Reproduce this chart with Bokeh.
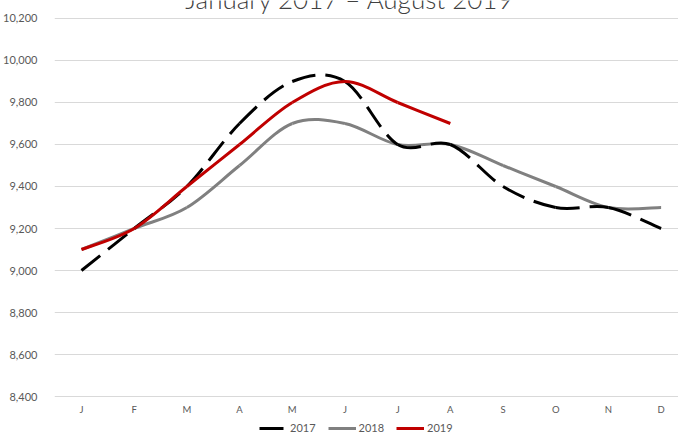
from bokeh.plotting import figure
from bokeh.models import (ColumnDataSource, FixedTicker, NumeralTickFormatter, Range1d,
                          Legend, LegendItem, Label)
from bokeh.core.properties import value
from bokeh.embed import file_html
from bokeh.resources import INLINE

months = ["J", "F", "M", "A", "M", "J", "J", "A", "S", "O", "N", "D"]
y2017 = [9000, 9200, 9400, 9700, 9900, 9900, 9600, 9600, 9400, 9300, 9300, 9200]
y2018 = [9100, 9200, 9300, 9500, 9700, 9700, 9600, 9600, 9500, 9400, 9300, 9300]
y2019 = [9100, 9200, 9400, 9600, 9800, 9900, 9800, 9700]
y_ticks = list(range(8400, 10201, 200))
title_text = "January 2017 \u2013 August 2019"


def smooth_segments(values):
    """Bezier control points (Catmull-Rom style, like Excel's smoothed line)."""
    xs = list(range(len(values)))
    pts = list(zip(xs, values))
    n = len(pts)
    d = dict(x0=[], y0=[], x1=[], y1=[], cx0=[], cy0=[], cx1=[], cy1=[])
    for i in range(n - 1):
        p0 = pts[i - 1] if i > 0 else pts[i]
        p1 = pts[i]
        p2 = pts[i + 1]
        p3 = pts[i + 2] if i + 2 < n else pts[i + 1]
        d["x0"].append(p1[0]); d["y0"].append(p1[1])
        d["x1"].append(p2[0]); d["y1"].append(p2[1])
        d["cx0"].append(p1[0] + (p2[0] - p0[0]) / 6.0)
        d["cy0"].append(p1[1] + (p2[1] - p0[1]) / 6.0)
        d["cx1"].append(p2[0] - (p3[0] - p1[0]) / 6.0)
        d["cy1"].append(p2[1] - (p3[1] - p1[1]) / 6.0)
    return ColumnDataSource(d)


p = figure(width=678, height=435, output_backend="svg", toolbar_location=None,
           x_range=Range1d(-0.512, 11.33), y_range=Range1d(8214.3, 10285.7),
           min_border_left=54, min_border_right=0, min_border_top=0, min_border_bottom=0)
p.outline_line_color = None
p.background_fill_color = "white"
p.border_fill_color = "white"

p.xgrid.grid_line_color = None
p.ygrid.grid_line_color = "#d9d9d9"
p.ygrid.grid_line_width = 1
p.ygrid.ticker = FixedTicker(ticks=y_ticks)

p.xaxis.visible = False
p.yaxis.ticker = FixedTicker(ticks=y_ticks)
p.yaxis.formatter = NumeralTickFormatter(format="0,0")
p.yaxis.axis_line_color = None
p.yaxis.major_tick_line_color = None
p.yaxis.minor_tick_line_color = None
p.yaxis.major_label_text_color = "#595959"
p.yaxis.major_label_text_font = "Lato"
p.yaxis.major_label_text_font_size = "11px"
p.yaxis.major_label_standoff = 11

# month labels along the bottom (category axis)
month_src = ColumnDataSource(dict(x=list(range(len(months))), m=months))
p.text(x="x", y=8338, text="m", source=month_src, text_align="center",
       text_baseline="middle", text_font=value("Lato"), text_font_size="9.5px",
       text_color="#595959")

r18 = p.bezier(source=smooth_segments(y2018), x0="x0", y0="y0", x1="x1", y1="y1",
               cx0="cx0", cy0="cy0", cx1="cx1", cy1="cy1",
               line_color="#808080", line_width=3)
r17 = p.bezier(source=smooth_segments(y2017), x0="x0", y0="y0", x1="x1", y1="y1",
               cx0="cx0", cy0="cy0", cx1="cx1", cy1="cy1",
               line_color="black", line_width=3, line_dash="24 10")
r19 = p.bezier(source=smooth_segments(y2019), x0="x0", y0="y0", x1="x1", y1="y1",
               cx0="cx0", cy0="cy0", cx1="cx1", cy1="cy1",
               line_color="#c00000", line_width=3)

legend = Legend(items=[LegendItem(label="2017", renderers=[r17]),
                       LegendItem(label="2018", renderers=[r18]),
                       LegendItem(label="2019", renderers=[r19])],
                orientation="horizontal", location=(205, 1),
                glyph_width=28, glyph_height=12, label_standoff=3, spacing=12,
                padding=0, margin=0, border_line_color=None, background_fill_alpha=0,
                label_text_font="Lato", label_text_font_size="11px",
                label_text_color="#595959", label_height=12)
p.add_layout(legend, "center")

title = Label(x=5.09, y=10295.0, text=title_text, text_align="center",
              text_baseline="alphabetic", text_font="Lato Light",
              text_font_size="26px", text_color="#404040")
p.add_layout(title)

open("out.html", "w").write(file_html(p, INLINE))
